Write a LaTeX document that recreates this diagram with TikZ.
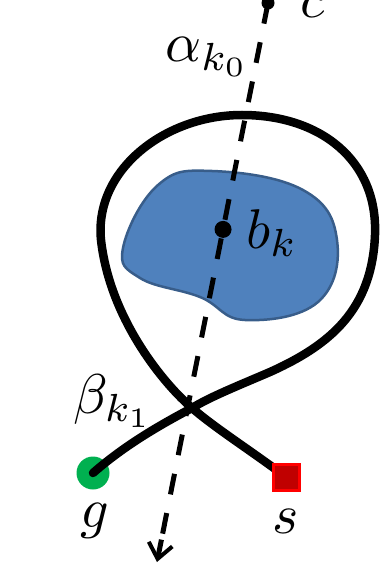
\documentclass[tikz,border=0pt]{standalone}
\usepackage{graphicx}
\usetikzlibrary{arrows.meta,calc}
\definecolor{blobfill}{HTML}{4F81BD}
\definecolor{blobline}{HTML}{385D8A}
\definecolor{gcol}{HTML}{00B050}
\definecolor{sfill}{HTML}{C00000}
\newcommand{\biglbl}[1]{\scalebox{5.6}{$#1$}}
\tikzset{
  dotnode/.style={circle,fill=black,inner sep=0pt,minimum size=#1},
  lbl/.style={inner sep=0pt,anchor=base west},
  ray/.style={line width=5pt,dash pattern=on 21pt off 19pt},
  curve/.style={line width=8.5pt,line cap=round,line join=round},
}
\begin{document}
\begin{tikzpicture}[x=1pt,y=-1pt]
\useasboundingbox (0,0) rectangle (382,567);
% blob
\draw[fill=blobfill,draw=blobline,line width=2.5pt]
  plot[smooth cycle,tension=0.7] coordinates {(123,248) (158,185) (212,171) (303,190) (337,240) (318,302) (245,320) (200,297) (140,278)};
% goal and start
\node[circle,fill=gcol,inner sep=0pt,minimum size=33pt] (g) at (93,473) {};
\coordinate (X) at (192,408);
\coordinate (L) at (101,240);
\coordinate (T) at (242,115);
\coordinate (R) at (375,235);
\coordinate (Q) at (270,372);
\node[draw=red,fill=sfill,line width=3pt,inner sep=0pt,minimum size=26pt] (s) at (286,477) {};
% path
\draw[curve] (s.center) .. controls (250,450) and (215,428) .. (X)
  .. controls (165,385) and (110,320) .. (L)
  .. controls (94,170) and (165,115) .. (T)
  .. controls (320,115) and (378,160) .. (R)
  .. controls (372,310) and (330,345) .. (Q)
  .. controls (235,387) and (210,397) .. (X)
  .. controls (160,425) and (125,445) .. (g.center);
\node[draw=red,fill=sfill,line width=3pt,inner sep=0pt,minimum size=26pt] at (s) {};
% dashed ray
\node[dotnode=13pt] (c) at (268,3) {};
\coordinate (tip) at (157,562);
\coordinate (pre) at ($(c)!0.96!(tip)$);
\draw[ray] (c.center) -- (pre);
\draw[line width=5pt,-{Straight Barb[length=15pt,width=24pt,line width=4pt]}] (pre) -- (tip);
\node[dotnode=17pt] (b) at ($(c)!0.405!(tip)$) {};
% labels
\node[lbl] (clbl) at (300,18) {\biglbl{c}};
\node[lbl] (alpha) at (165,62) {\biglbl{\alpha_{k_0}}};
\node[lbl] (blbl) at (246,248) {\biglbl{b_k}};
\node[lbl] (beta) at (73,413) {\biglbl{\beta_{k_1}}};
\node[lbl] (glbl) at (80,527) {\biglbl{g}};
\node[lbl] (slbl) at (272,533) {\biglbl{s}};
\end{tikzpicture}
\end{document}
